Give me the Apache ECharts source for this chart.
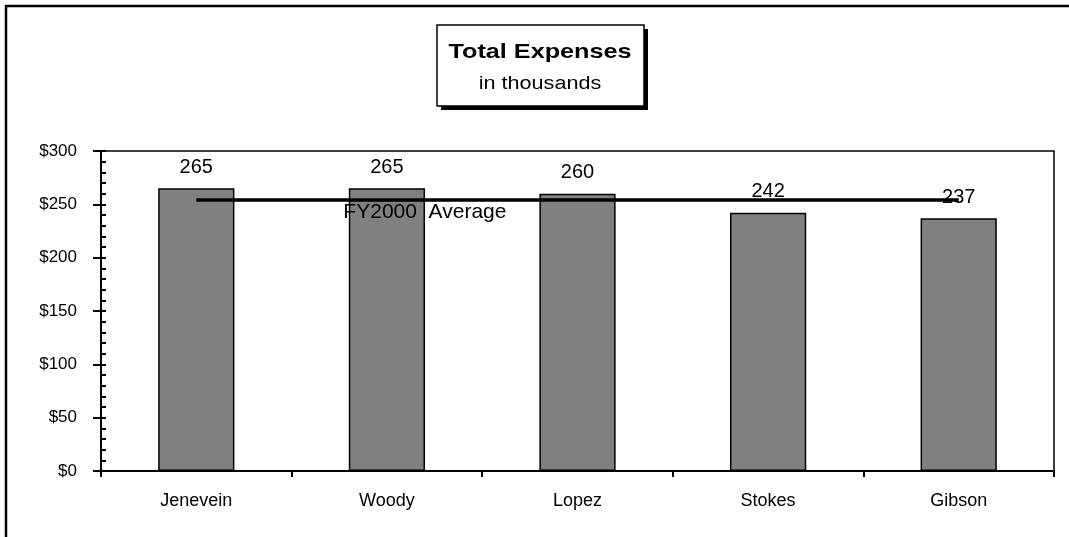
<!DOCTYPE html>
<html><head><meta charset="utf-8">
<script src="https://cdn.jsdelivr.net/npm/echarts@6/dist/echarts.min.js"></script>
<style>html,body{margin:0;padding:0;background:#fff}#c{width:1069px;height:537px}</style>
</head><body><div id="c"></div>
<script>
const categories = ['Jenevein','Woody','Lopez','Stokes','Gibson'];
const expenses = [265, 265, 260, 242, 237];
const average = [254, 254, 254, 254, 254];
const averageLabel = 'FY2000  Average';
const yTicks = [0, 50, 100, 150, 200, 250, 300];
const titleText = 'Total Expenses';
const subtitleText = 'in thousands';

const font = '"Liberation Sans", Arial, sans-serif';
const chart = echarts.init(document.getElementById('c'));
const grid = {left: 101, right: 15, top: 151, bottom: 66, show: true, borderColor: '#000', borderWidth: 1.5, backgroundColor: '#fff'};
chart.setOption({
  animation: false,
  backgroundColor: '#fff',
  graphic: [
    {type: 'rect', shape: {x: 6, y: 6, width: 1100, height: 600}, style: {fill: 'none', stroke: '#000', lineWidth: 2.5}, z: -1},
    {type: 'rect', shape: {x: 441, y: 29, width: 207, height: 81}, style: {fill: '#000'}, z: 10},
    {type: 'rect', shape: {x: 437, y: 25, width: 207, height: 81}, style: {fill: '#fff', stroke: '#000', lineWidth: 1.5}, z: 11},
    {type: 'text', x: 540, y: 52, scaleX: 1.2, style: {text: titleText, font: 'bold 21px ' + font, fill: '#000', textAlign: 'center', textVerticalAlign: 'middle'}, z: 12},
    {type: 'text', x: 540, y: 84, scaleX: 1.2, style: {text: subtitleText, font: '18px ' + font, fill: '#000', textAlign: 'center', textVerticalAlign: 'middle'}, z: 12}
  ],
  grid: grid,
  xAxis: [
    {type: 'category', data: categories, boundaryGap: true,
     axisLine: {lineStyle: {color: '#000', width: 2}},
     axisTick: {show: true, inside: false, length: 6, lineStyle: {color: '#000', width: 2}},
     axisLabel: {color: '#000', fontSize: 18, fontFamily: font, margin: 21}},
    {type: 'category', data: categories, position: 'bottom', boundaryGap: true,
     axisLine: {show: false},
     axisTick: {show: true, inside: true, alignWithLabel: true, length: 5, lineStyle: {color: '#000', width: 2}},
     axisLabel: {show: false}}
  ],
  yAxis: [
    {type: 'value', min: 0, max: 300, interval: 50,
     axisLine: {show: true, lineStyle: {color: '#000', width: 2}},
     axisTick: {show: true, inside: false, length: 8, lineStyle: {color: '#000', width: 2}},
     splitLine: {show: false},
     axisLabel: {color: '#000', fontSize: 17, fontFamily: font, margin: 24, formatter: v => '$' + v}},
    {type: 'value', min: 0, max: 300, interval: 10, position: 'left',
     axisLine: {show: false},
     axisTick: {show: true, inside: true, length: 5, lineStyle: {color: '#000', width: 2}},
     splitLine: {show: false},
     axisLabel: {show: false}}
  ],
  series: [
    {type: 'bar', data: expenses, barWidth: '40%', xAxisIndex: 0, yAxisIndex: 0,
     itemStyle: {color: '#808080', borderColor: '#000', borderWidth: 1.5},
     label: {show: true, position: 'top', distance: 11, color: '#000', fontSize: 20, fontFamily: font}},
    {type: 'line', data: average.map((v, i) => i === 1 ? {value: v, label: {show: true, formatter: averageLabel, position: 'bottom', offset: [38, -3], color: '#000', fontSize: 21, fontFamily: font}} : v),
     xAxisIndex: 0, yAxisIndex: 0, symbol: 'circle', symbolSize: 0, showSymbol: true, z: 5,
     lineStyle: {color: '#000', width: 3.5},
     label: {show: false}}
  ]
});
</script></body></html>
